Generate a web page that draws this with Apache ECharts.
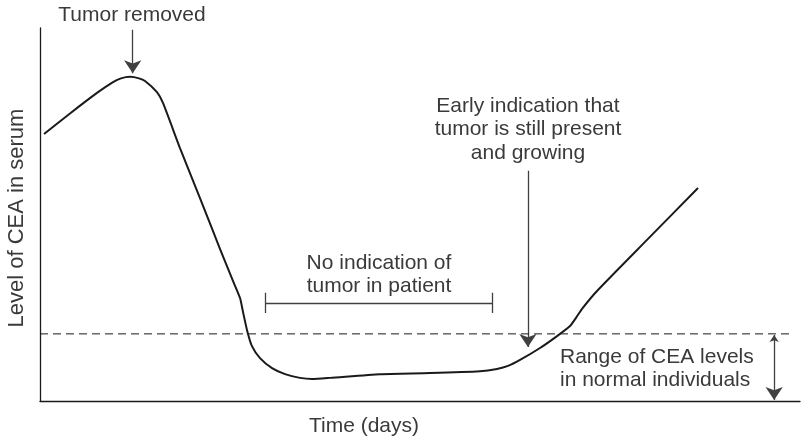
<!DOCTYPE html>
<html>
<head>
<meta charset="utf-8">
<script src="https://cdn.jsdelivr.net/npm/echarts@6/dist/echarts.min.js"></script>
<style>
  html, body { margin: 0; padding: 0; background: #fff; }
  #chart { width: 802px; height: 441px; }
</style>
</head>
<body>
<div id="chart"></div>
<script>
// CEA level over time (arbitrary units, axes unlabelled)
const timePoints = [0.53, 3.95, 7.50, 9.61, 10.66, 11.84, 13.03, 13.82, 15.39, 16.18, 18.42, 21.05, 23.68, 25.39, 26.32, 26.71, 27.24, 27.89, 28.95, 30.53, 32.24, 34.21, 35.79, 38.16, 44.74, 51.32, 57.89, 60.13, 61.58, 63.16, 65.79, 68.03, 69.74, 70.53, 71.32, 73.29, 79.87, 86.58];
const ceaLevels  = [71.6, 77.1, 82.6, 85.5, 86.5, 86.9, 86.5, 85.8, 82.8, 79.9, 67.8, 54.4, 40.8, 32.2, 27.6, 23.9, 19.0, 14.7, 11.5, 8.8, 7.2, 6.2, 5.9, 6.2, 7.2, 7.5, 8.0, 8.6, 9.4, 11.0, 14.2, 17.4, 20.1, 22.3, 24.7, 29.5, 43.2, 57.1];

// Upper limit of the normal range
const normalUpper = 18.0;
const normalLineEnd = 99.1;

// Annotation arrows: [x, yFrom, yTo]
const removedArrow = [12.2, 99.5, 87.9];
const earlyArrow = [64.2, 61.7, 14.5];
const rangeArrow = [96.6, 17.7, 0.3];

// "No indication" bracket: [xStart, xEnd, y, tickLow, tickHigh]
const bracket = [29.7, 59.5, 26.3, 23.6, 29.0];

const labelRemoved = 'Tumor removed';
const labelEarly = ['Early indication that', 'tumor is still present', 'and growing'];
const labelNone = ['No indication of', 'tumor in patient'];
const labelRange = ['Range of CEA levels', 'in normal individuals'];
const xTitle = 'Time (days)';
const yTitle = 'Level of CEA in serum';

const chart = echarts.init(document.getElementById('chart'));

const FONT = 'Liberation Sans';
const TXT = '#3a3a3a';
const INK = '#1a1a1a';
const ARROW = '#404040';

const curve = timePoints.map((t, i) => [t, ceaLevels[i]]);

function seg(x1, y1, x2, y2) {
  return { coords: [[x1, y1], [x2, y2]] };
}

const option = {
  animation: false,
  backgroundColor: '#fff',
  grid: { left: 40, right: 2, top: 28, bottom: 40 },
  xAxis: {
    type: 'value', min: 0, max: 100,
    axisLine: { show: true, lineStyle: { color: INK, width: 1.3 } },
    axisTick: { show: false }, axisLabel: { show: false }, splitLine: { show: false }
  },
  yAxis: {
    type: 'value', min: 0, max: 100,
    axisLine: { show: true, lineStyle: { color: INK, width: 1.3 } },
    axisTick: { show: false }, axisLabel: { show: false }, splitLine: { show: false }
  },
  series: [
    {
      type: 'line',
      data: curve,
      smooth: 0.2,
      showSymbol: false,
      lineStyle: { color: INK, width: 2 },
      z: 5
    },
    {
      type: 'line',
      data: [[0, normalUpper], [normalLineEnd, normalUpper]],
      showSymbol: false,
      lineStyle: { color: INK, width: 1, type: [8, 5] }
    },
    {
      type: 'lines',
      coordinateSystem: 'cartesian2d',
      symbol: ['none', 'arrow'],
      symbolSize: [7, 13],
      lineStyle: { color: ARROW, width: 1.3, opacity: 1 },
      data: [
        seg(removedArrow[0], removedArrow[1], removedArrow[0], removedArrow[2]),
        seg(earlyArrow[0], earlyArrow[1], earlyArrow[0], earlyArrow[2])
      ]
    },
    {
      type: 'lines',
      coordinateSystem: 'cartesian2d',
      symbol: ['arrow', 'arrow'],
      symbolSize: [7, 13],
      lineStyle: { color: ARROW, width: 1.3, opacity: 1 },
      data: [
        seg(rangeArrow[0], rangeArrow[1], rangeArrow[0], rangeArrow[2])
      ]
    },
    {
      type: 'lines',
      coordinateSystem: 'cartesian2d',
      symbol: ['none', 'none'],
      lineStyle: { color: ARROW, width: 1.3, opacity: 1 },
      data: [
        seg(bracket[0], bracket[2], bracket[1], bracket[2]),
        seg(bracket[0], bracket[3], bracket[0], bracket[4]),
        seg(bracket[1], bracket[3], bracket[1], bracket[4])
      ]
    }
  ]
};
chart.setOption(option);

function textEl(x, y, str, align, rotation, size) {
  return {
    type: 'text',
    x: x, y: y,
    rotation: rotation || 0,
    silent: true,
    style: {
      text: str,
      fill: TXT,
      font: (size || 21) + 'px "' + FONT + '"',
      textAlign: align || 'center',
      textVerticalAlign: 'middle'
    }
  };
}

const graphics = [];
graphics.push(textEl(132, 15, labelRemoved));
labelEarly.forEach((s, i) => graphics.push(textEl(528, 106 + i * 23.5, s)));
labelNone.forEach((s, i) => graphics.push(textEl(379, 263.5 + i * 23, s)));
labelRange.forEach((s, i) => graphics.push(textEl(560, 357.5 + i * 22.5, s, 'left')));
graphics.push(textEl(364, 426, xTitle));
graphics.push(textEl(17, 218, yTitle, 'center', Math.PI / 2, 22));

chart.setOption({ graphic: graphics });
</script>
</body>
</html>
